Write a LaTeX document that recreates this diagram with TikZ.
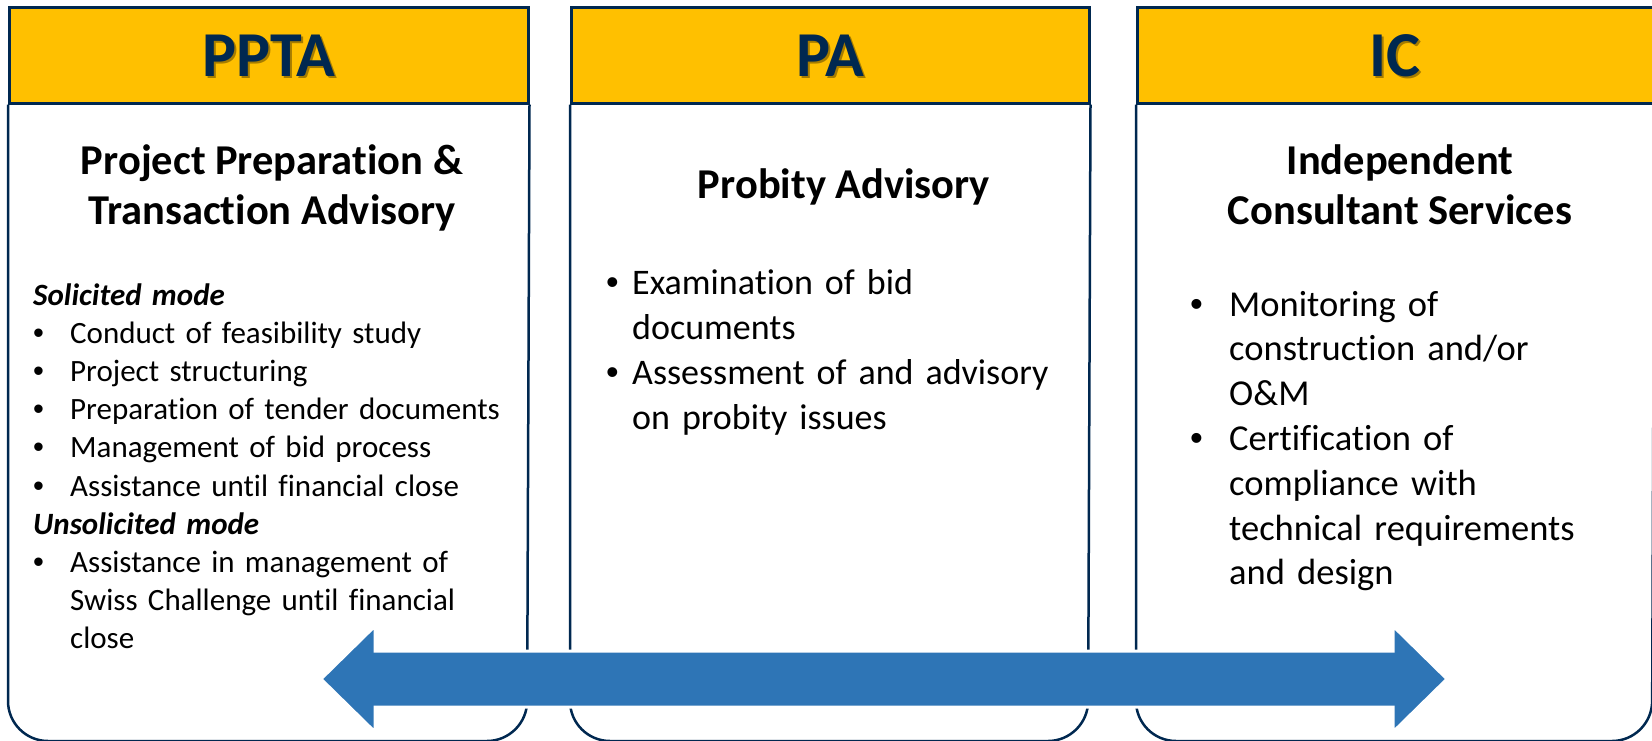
\documentclass[tikz,border=0pt]{standalone}
\usepackage{fontspec}
\setmainfont{Carlito}[Ligatures={NoCommon}]
\newfontfamily\bulletfont{Liberation Sans}
\usetikzlibrary{shapes.arrows}

\definecolor{headgold}{RGB}{255,192,0}
\definecolor{boxnavy}{RGB}{0,40,80}
\definecolor{arrowblue}{RGB}{46,117,182}

% bullet item with hanging indent, mode heading
\newcommand{\bitem}[2][36pt]{\hangindent=#1\hangafter=1\noindent\makebox[#1][l]{\bulletfont\textbullet}#2\par}
\newcommand{\modehead}[1]{\noindent\textbf{\textit{#1}}\par}

\begin{document}
\begin{tikzpicture}[
        x=1pt,y=-1pt,
        header/.style={rectangle,draw=boxnavy,fill=headgold,line width=2.5pt,
            minimum width=519pt,minimum height=96pt,inner sep=0pt,anchor=north west},
        headtext/.style={inner sep=0pt,text=boxnavy,font=\fontsize{64}{64}\selectfont\bfseries},
        shade/.style={headtext,text=black,opacity=.35},
        body/.style={draw=boxnavy,line width=2.5pt,rounded corners=40pt},
        title/.style={align=center,inner sep=0pt,anchor=base,
            font=\fontsize{42.5}{50}\selectfont\bfseries},
        list/.style={align=left,text width=500pt,inner sep=0pt,anchor=base west},
        span/.style={fill=arrowblue,draw=white,line width=3pt,line join=miter}
    ]
    \useasboundingbox (0,0) rectangle (1652,740);

    % boxes
    \node[header] (ppta) at (8,6) {};
    \draw[body] (ppta.south west) -- (8,741) -- (527,741) -- (ppta.south east);
    \node[header,minimum width=518pt] (pa) at (570,6) {};
    \draw[body] (pa.south west) -- (570,741) -- (1088,741) -- (pa.south east);
    \node[header,minimum width=516pt] (ic) at (1136,6) {};
    \draw[body] (ic.south west) -- (1136,741) -- (1652,741) -- (ic.south east);

    % header texts
    \node[shade] (ppta-sh) at ([shift={(2,2)}]ppta.center) {PPTA};
    \node[headtext] (ppta-head) at (ppta.center) {PPTA};
    \node[shade] (pa-sh) at ([shift={(2,2)}]pa.center) {PA};
    \node[headtext] (pa-head) at (pa.center) {PA};
    \node[shade] (ic-sh) at ([shift={(2,2)}]ic.center) {IC};
    \node[headtext] (ic-head) at (ic.center) {IC};

    % service names
    \node[title] (ppta-name) at (272,224) {Project Preparation \&\\Transaction Advisory};
    \node[title] (pa-name) at (844,198) {Probity Advisory};
    \node[title] (ic-name) at (1400,224) {Independent\\Consultant Services};

    % lists
    \node[list,font=\fontsize{31}{38.2}\selectfont] (ppta-list) at (33,305) {%
        \modehead{Solicited mode}
        \bitem[37pt]{Conduct of feasibility study}
        \bitem[37pt]{Project structuring}
        \bitem[37pt]{Preparation of tender documents}
        \bitem[37pt]{Management of bid process}
        \bitem[37pt]{Assistance until financial close}
        \modehead{Unsolicited mode}
        \bitem[37pt]{Assistance in management of\newline Swiss Challenge until financial\newline close}};
    \node[list,font=\fontsize{36}{45}\selectfont] (pa-list) at (606,294) {%
        \bitem[26pt]{Examination of bid\newline documents}
        \bitem[26pt]{Assessment of and advisory\newline on probity issues}};
    \node[list,font=\fontsize{36.5}{44.8}\selectfont] (ic-list) at (1190,316) {%
        \bitem[39pt]{Monitoring of\newline construction and/or\newline O\&M}
        \bitem[39pt]{Certification of\newline compliance with\newline technical requirements\newline and design}};

    % arrow across the phases
    \coordinate (span-l) at (321,679);
    \coordinate (span-r) at (1447,679);
    \draw[span] (span-l) -- ++(54,-53) -- ++(0,25) -- ++(1018,0) -- ++(0,-25)
        -- (span-r) -- ++(-54,53) -- ++(0,-25) -- ++(-1018,0) -- ++(0,25) -- cycle;
\end{tikzpicture}
\end{document}
